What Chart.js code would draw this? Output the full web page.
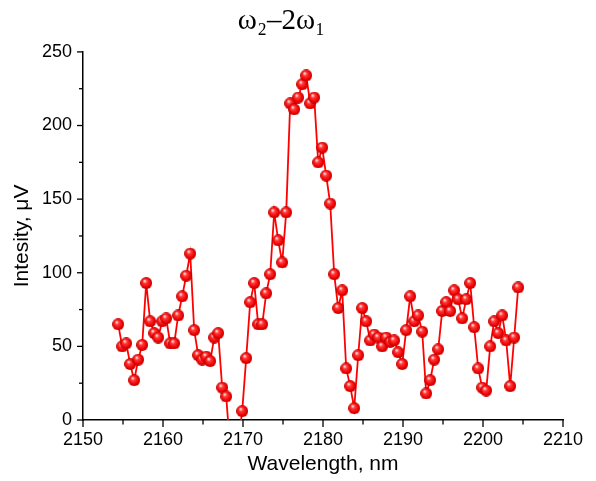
<!DOCTYPE html>
<html>
<head>
<meta charset="utf-8">
<script src="https://cdn.jsdelivr.net/npm/chart.js@4/dist/chart.umd.min.js"></script>
<style>
  html, body { margin: 0; padding: 0; background: #fff; }
  #wrap { width: 596px; height: 481px; }
</style>
</head>
<body>
<div id="wrap"><canvas id="myChart" width="596" height="481"></canvas></div>
<script>
// wavelength (nm) of each measurement
const wavelength = [
  2154.4, 2154.9, 2155.4, 2155.9, 2156.4, 2156.9, 2157.4, 2157.9, 2158.4, 2158.9,
  2159.4, 2159.9, 2160.4, 2160.9, 2161.4, 2161.9, 2162.4, 2162.9, 2163.4, 2163.9,
  2164.4, 2164.9, 2165.4, 2165.9, 2166.4, 2166.9, 2167.4, 2167.9, 2168.4, 2168.9,
  2169.4, 2169.9, 2170.4, 2170.9, 2171.4, 2171.9, 2172.4, 2172.9, 2173.4, 2173.9,
  2174.4, 2174.9, 2175.4, 2175.9, 2176.4, 2176.9, 2177.4, 2177.9, 2178.4, 2178.9,
  2179.4, 2179.9, 2180.4, 2180.9, 2181.4, 2181.9, 2182.4, 2182.9, 2183.4, 2183.9,
  2184.4, 2184.9, 2185.4, 2185.9, 2186.4, 2186.9, 2187.4, 2187.9, 2188.4, 2188.9,
  2189.4, 2189.9, 2190.4, 2190.9, 2191.4, 2191.9, 2192.4, 2192.9, 2193.4, 2193.9,
  2194.4, 2194.9, 2195.4, 2195.9, 2196.4, 2196.9, 2197.4, 2197.9, 2198.4, 2198.9,
  2199.4, 2199.9, 2200.4, 2200.9, 2201.4, 2201.9, 2202.4, 2202.9, 2203.4, 2203.9,
  2204.4
];

// intensity (uV), points below 0 are cut off by the axis
const intensity = [
  65, 50, 52, 38, 27, 41, 51, 93, 67, 59,
  56, 67, 69, 52, 52, 71, 84, 98, 113, 61,
  44, 41, 43, 40, 56, 59, 22, 16, -20, -45,
  -15, 6, 42, 80, 93, 65, 65, 86, 99, 141,
  122, 107, 141, 215, 211, 219, 228, 234, 215, 219,
  175, 185, 166, 147, 99, 76, 88, 35, 23, 8,
  44, 76, 67, 54, 58, 56, 50, 56, 53, 54,
  46, 38, 61, 84, 67, 71, 60, 18, 27, 41,
  48, 74, 80, 74, 88, 82, 69, 82, 93, 63,
  35, 22, 20, 50, 67, 59, 71, 54, 23, 56,
  90
];

const xTicks = [2150, 2160, 2170, 2180, 2190, 2200, 2210];
const yTicks = [0, 50, 100, 150, 200, 250];

// red shiny ball used as marker
function makeBall(d) {
  const c = document.createElement('canvas');
  c.width = c.height = d;
  const g = c.getContext('2d');
  const r = d / 2;
  const grad = g.createRadialGradient(r * 0.72, r * 0.62, r * 0.08, r, r, r);
  grad.addColorStop(0, '#ffe6e6');
  grad.addColorStop(0.28, '#ff3a3a');
  grad.addColorStop(0.75, '#ee0000');
  grad.addColorStop(1, '#b30000');
  g.fillStyle = grad;
  g.beginPath();
  g.arc(r, r, r, 0, Math.PI * 2);
  g.fill();
  return c;
}
const ball = makeBall(12);

// major + minor tick marks drawn outward
const tickMarks = {
  id: 'tickMarks',
  afterDraw(chart) {
    const { ctx, scales: { x, y } } = chart;
    ctx.save();
    ctx.strokeStyle = '#000';
    ctx.lineWidth = 1.3;
    for (let v = x.min; v <= x.max; v += 5) {
      const px = x.getPixelForValue(v);
      const len = v % 10 === 0 ? 7 : 4.5;
      ctx.beginPath();
      ctx.moveTo(px, x.top);
      ctx.lineTo(px, x.top + len);
      ctx.stroke();
    }
    for (let v = y.min; v <= y.max; v += 25) {
      const py = y.getPixelForValue(v);
      const len = v % 50 === 0 ? 6 : 4;
      ctx.beginPath();
      ctx.moveTo(y.right, py);
      ctx.lineTo(y.right - len, py);
      ctx.stroke();
    }
    ctx.restore();
  }
};

const ctx = document.getElementById('myChart').getContext('2d');
const myChart = new Chart(ctx, {
  type: 'line',
  data: {
    datasets: [{
      data: wavelength.map((w, i) => ({ x: w, y: intensity[i] })),
      borderColor: '#ff0000',
      borderWidth: 1.8,
      pointStyle: ball,
      pointRadius: 6,
      pointHoverRadius: 6,
      tension: 0,
      clip: { left: 8, top: 8, right: 8, bottom: 0 }
    }]
  },
  plugins: [tickMarks],
  options: {
    responsive: false,
    animation: false,
    events: [],
    layout: { padding: { left: 0, right: 33, top: 0, bottom: 0 } },
    plugins: {
      legend: { display: false },
      tooltip: { enabled: false },
      title: {
        display: true,
        text: 'ω₂–2ω₁',
        color: '#000',
        font: { family: 'Liberation Serif, Times New Roman, serif', size: 29, weight: 'normal', lineHeight: 1.1 },
        padding: { top: 5, bottom: 15 }
      }
    },
    scales: {
      x: {
        type: 'linear',
        min: 2150,
        max: 2210,
        afterFit: s => { s.height = 61; },
        afterBuildTicks: s => { s.ticks = xTicks.map(v => ({ value: v })); },
        grid: { display: false, drawTicks: false },
        border: { display: true, color: '#000', width: 1.5 },
        ticks: {
          color: '#000',
          padding: 9,
          maxRotation: 0,
          autoSkip: false,
          callback: v => String(v),
          font: { family: 'Liberation Sans, Arial, sans-serif', size: 18 }
        },
        title: {
          display: true,
          text: 'Wavelength, nm',
          color: '#000',
          font: { family: 'Liberation Sans, Arial, sans-serif', size: 21 },
          padding: { top: 0, bottom: 4 }
        }
      },
      y: {
        min: 0,
        max: 250,
        afterFit: s => { s.width = 83; },
        afterBuildTicks: s => { s.ticks = yTicks.map(v => ({ value: v })); },
        grid: { display: false, drawTicks: false },
        border: { display: true, color: '#000', width: 1.5 },
        ticks: {
          color: '#000',
          padding: 11,
          font: { family: 'Liberation Sans, Arial, sans-serif', size: 18 }
        },
        title: {
          display: true,
          text: 'Intesity, μV',
          color: '#000',
          font: { family: 'Liberation Sans, Arial, sans-serif', size: 21 },
          padding: { top: 10, bottom: 0 }
        }
      }
    }
  }
});
</script>
</body>
</html>
